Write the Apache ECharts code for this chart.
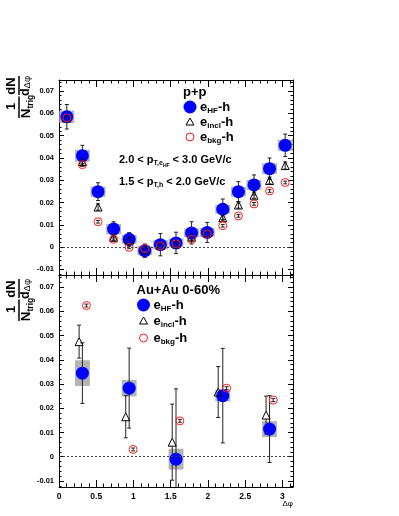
<!DOCTYPE html>
<html><head><meta charset="utf-8">
<script src="https://cdn.jsdelivr.net/npm/echarts@6/dist/echarts.min.js"></script>
<style>html,body{margin:0;padding:0;background:#fff}#c{width:399px;height:516px}</style>
</head><body><div id="c"></div>
<script>
// ---------- data ----------
const phiPP = [0.105,0.314,0.524,0.733,0.942,1.152,1.361,1.571,1.780,1.990,2.199,2.409,2.618,2.827,3.037];
const ppHF     = [0.0585,0.041,0.0249,0.0081,0.0035,-0.0016,0.0011,0.0019,0.0064,0.0066,0.017,0.0249,0.0279,0.0352,0.0457];
const ppHFErr  = [0.0055,0.0047,0.004,0.0033,0.003,0.003,0.005,0.0048,0.005,0.0045,0.0046,0.0045,0.0045,0.0048,0.005];
const ppHFSys  = [0.0028,0.0027,0.0023,0.0023,0.002,0.002,0.002,0.002,0.002,0.002,0.002,0.0022,0.0022,0.0024,0.0025];
const ppIncl   = [0.058,0.0384,0.0180,0.0044,0.003,-0.0012,0.0008,0.0015,0.0045,0.0064,0.0132,0.0189,0.0233,0.0299,0.0366];
const ppInclErr= [0.0012,0.0012,0.0014,0.0012,0.0012,0.0012,0.0012,0.0012,0.0012,0.0012,0.0014,0.0014,0.0014,0.0015,0.0016];
const ppBkg    = [0.058,0.037,0.0114,0.0035,-0.0001,-0.0006,0.0005,0.0015,0.0035,0.0059,0.0096,0.014,0.0194,0.0252,0.029];
const ppBkgErr = [0.0006,0.0006,0.0006,0.0006,0.0006,0.0006,0.0006,0.0006,0.0006,0.0006,0.0006,0.0006,0.0006,0.0006,0.0006];

const phiAA    = [0.314,0.942,1.571,2.199,2.827];
const aaHF     = [0.0345,0.0283,-0.001,0.0252,0.0114];
const aaHFErr  = [0.0125,0.0165,0.029,0.0195,0.0138];
const aaHFSys  = [0.0053,0.0034,0.0043,0.0024,0.0033];
const phiAAIncl= [0.27,0.896,1.52,2.137,2.78];
const aaIncl   = [0.0475,0.0165,0.006,0.0267,0.0172];
const aaInclErr= [0.0068,0.0087,0.0157,0.0105,0.0078];
const phiAABkg = [0.368,0.995,1.623,2.25,2.876];
const aaBkg    = [0.0624,0.003,0.0148,0.0283,0.0234];
const aaBkgErr = [0.0006,0.0006,0.0006,0.0006,0.0006];

const xTickLabels = [0,0.5,1,1.5,2,2.5,3];
const yTickLabels = [-0.01,0,0.01,0.02,0.03,0.04,0.05,0.06,0.07];

// ---------- helpers ----------
const FONT = '"Liberation Sans", Arial, sans-serif';
const XMIN = 0, XMAX = Math.PI, YMIN = -0.0125, YMAX = 0.075;
const xMinor = []; for (let i = 1; i <= 31; i++) { if (i % 5) xMinor.push(i / 10); }
const yMinor = []; for (let i = -6; i <= 37; i++) { if (i % 5) yMinor.push(i / 500); }
const fmt = v => Math.abs(v) < 1e-9 ? '0' : String(parseFloat(v.toFixed(3)));
const tickStyle = { color: '#000', width: 1 };

function axesFor(g, showX) {
  const base = { gridIndex: g, type: 'value', splitLine: { show: false }, axisPointer: { show: false } };
  const xs = [], ys = [];
  ['bottom', 'top'].forEach(pos => {
    xs.push(Object.assign({}, base, { min: XMIN, max: XMAX, position: pos,
      axisLine: { show: true, onZero: false, lineStyle: tickStyle },
      axisTick: { show: true, inside: true, length: 7, customValues: xTickLabels, lineStyle: tickStyle },
      axisLabel: { show: showX && pos === 'bottom', customValues: xTickLabels, formatter: fmt,
        fontFamily: FONT, fontWeight: 'bold', fontSize: 8.5, color: '#000', margin: 5 } }));
    xs.push(Object.assign({}, base, { min: XMIN, max: XMAX, position: pos,
      axisLine: { show: false, onZero: false },
      axisTick: { show: true, inside: true, length: 3.5, customValues: xMinor, lineStyle: tickStyle },
      axisLabel: { show: false } }));
  });
  ['left', 'right'].forEach(pos => {
    ys.push(Object.assign({}, base, { min: YMIN, max: YMAX, position: pos,
      axisLine: { show: true, onZero: false, lineStyle: tickStyle },
      axisTick: { show: true, inside: true, length: 5, customValues: yTickLabels, lineStyle: tickStyle },
      axisLabel: { show: pos === 'left', customValues: yTickLabels, formatter: fmt,
        fontFamily: FONT, fontWeight: 'bold', fontSize: 7.5, color: '#000', margin: 5 } }));
    ys.push(Object.assign({}, base, { min: YMIN, max: YMAX, position: pos,
      axisLine: { show: false, onZero: false },
      axisTick: { show: true, inside: true, length: 2.5, customValues: yMinor, lineStyle: tickStyle },
      axisLabel: { show: false } }));
  });
  return { xs, ys };
}

function errSeries(xi, yi, xv, yv, ev, gap) {
  return {
    type: 'custom', xAxisIndex: xi, yAxisIndex: yi, clip: true, silent: true,
    data: xv.map((x, i) => [x, yv[i], ev[i]]),
    encode: { x: 0, y: 1 },
    renderItem(params, api) {
      const x = api.value(0), y = api.value(1), e = api.value(2);
      const t = api.coord([x, y + e]), b = api.coord([x, y - e]), c = api.coord([x, y]);
      const st = { stroke: '#222', lineWidth: 1 };
      const ch = [];
      if (gap > 0) {
        if (c[1] - gap > t[1]) ch.push({ type: 'line', shape: { x1: t[0], y1: t[1], x2: t[0], y2: c[1] - gap }, style: st });
        if (c[1] + gap < b[1]) ch.push({ type: 'line', shape: { x1: b[0], y1: c[1] + gap, x2: b[0], y2: b[1] }, style: st });
      } else {
        ch.push({ type: 'line', shape: { x1: t[0], y1: t[1], x2: b[0], y2: b[1] }, style: st });
      }
      ch.push({ type: 'line', shape: { x1: t[0] - 2, y1: t[1], x2: t[0] + 2, y2: t[1] }, style: st });
      ch.push({ type: 'line', shape: { x1: b[0] - 2, y1: b[1], x2: b[0] + 2, y2: b[1] }, style: st });
      return { type: 'group', children: ch };
    }
  };
}
function sysSeries(xi, yi, xv, yv, sv) {
  return {
    type: 'custom', xAxisIndex: xi, yAxisIndex: yi, clip: true, silent: true,
    data: xv.map((x, i) => [x, yv[i], sv[i]]),
    encode: { x: 0, y: 1 },
    renderItem(params, api) {
      const x = api.value(0), y = api.value(1), s = api.value(2);
      const a = api.coord([x - 0.1, y + s]), b = api.coord([x + 0.1, y - s]);
      return { type: 'rect', shape: { x: a[0], y: a[1], width: b[0] - a[0], height: b[1] - a[1] }, style: { fill: '#b4b4b4' } };
    },
    markLine: { silent: true, symbol: 'none', label: { show: false },
      lineStyle: { type: [2, 2], color: '#444', width: 1 }, data: [{ yAxis: 0 }] }
  };
}
function scat(xi, yi, xv, yv, kind) {
  const s = { type: 'scatter', xAxisIndex: xi, yAxisIndex: yi, silent: true, clip: true,
    data: xv.map((x, i) => [x, yv[i]]) };
  if (kind === 'hf') { s.symbol = 'circle'; s.symbolSize = 13; s.itemStyle = { color: '#0000ff', opacity: 1 }; }
  if (kind === 'incl') { s.symbol = 'triangle'; s.symbolSize = [8, 8]; s.itemStyle = { color: 'rgba(0,0,0,0)', borderColor: '#000', borderWidth: 1, opacity: 1 }; }
  if (kind === 'bkg') { s.symbol = 'circle'; s.symbolSize = 8; s.itemStyle = { color: 'rgba(0,0,0,0)', borderColor: '#ff1a1a', borderWidth: 1, opacity: 1 }; }
  return s;
}

const A0 = axesFor(0, false), A1 = axesFor(1, true);
const xAxis = A0.xs.concat(A1.xs), yAxis = A0.ys.concat(A1.ys);
const series = [
  sysSeries(0, 0, phiPP, ppHF, ppHFSys),
  errSeries(0, 0, phiPP, ppHF, ppHFErr, 0),
  scat(0, 0, phiPP, ppHF, 'hf'),
  errSeries(0, 0, phiPP, ppIncl, ppInclErr, 0),
  scat(0, 0, phiPP, ppIncl, 'incl'),
  errSeries(0, 0, phiPP, ppBkg, ppBkgErr, 0),
  scat(0, 0, phiPP, ppBkg, 'bkg'),
  sysSeries(4, 4, phiAA, aaHF, aaHFSys),
  errSeries(4, 4, phiAA, aaHF, aaHFErr, 0),
  scat(4, 4, phiAA, aaHF, 'hf'),
  errSeries(4, 4, phiAAIncl, aaIncl, aaInclErr, 4),
  scat(4, 4, phiAAIncl, aaIncl, 'incl'),
  errSeries(4, 4, phiAABkg, aaBkg, aaBkgErr, 0),
  scat(4, 4, phiAABkg, aaBkg, 'bkg')
];

// ---------- text helpers ----------
const mctx = document.createElement('canvas').getContext('2d');
function tw(t, size, w) { mctx.font = `${w} ${size}px ${FONT}`; return mctx.measureText(t).width; }
function runText(x, y, parts, align) {
  let total = 0; parts.forEach(p => total += tw(p[0], p[1], p[3] || 'bold'));
  let cx = align === 'center' ? x - total / 2 : (align === 'right' ? x - total : x);
  const out = [];
  parts.forEach(p => {
    const w = p[3] || 'bold';
    out.push({ type: 'text', silent: true, x: cx, y: y + (p[2] || 0),
      style: { text: p[0], font: `${w} ${p[1]}px ${FONT}`, fill: '#000', align: 'left', verticalAlign: 'middle',
        textAlign: 'left', textVerticalAlign: 'middle' } });
    cx += tw(p[0], p[1], w);
  });
  return out;
}
function yLabel(cx, cy) {
  const ch = [];
  ch.push(...runText(-10.5, -7.5, [['1', 13, 0]], 'center'));
  ch.push(...runText(-10.5, 7.5, [['N', 13.5, 0], ['trig', 8.5, 4]], 'center'));
  ch.push({ type: 'line', shape: { x1: -22, y1: 0, x2: -0.5, y2: 0 }, style: { stroke: '#000', lineWidth: 1.5 } });
  ch.push(...runText(10, -7.5, [['dN', 13, 0]], 'center'));
  ch.push(...runText(10, 7, [['d', 12.5, 0], ['Δφ', 9.5, 1, 'normal']], 'center'));
  ch.push({ type: 'line', shape: { x1: 1, y1: 0, x2: 20, y2: 0 }, style: { stroke: '#000', lineWidth: 1.5 } });
  return { type: 'group', x: cx, y: cy, rotation: Math.PI / 2, children: ch };
}
function legendBlock(x0, yTitle, title, yRows) {
  const el = [];
  el.push(...runText(x0 - 7, yTitle, [[title, 13, 0]], 'left'));
  const mx = x0, tx = x0 + 10;
  el.push({ type: 'circle', silent: true, shape: { cx: mx, cy: yRows[0], r: 6.5 }, style: { fill: '#0000ff' } });
  el.push(...runText(tx, yRows[0], [['e', 13, 0], ['HF', 8, 4], ['-h', 13, 0]], 'left'));
  el.push({ type: 'polygon', silent: true, shape: { points: [[mx, yRows[1] - 4], [mx + 4, yRows[1] + 3], [mx - 4, yRows[1] + 3]] }, style: { fill: 'none', stroke: '#000', lineWidth: 1 } });
  el.push(...runText(tx, yRows[1], [['e', 13, 0], ['incl', 8, 4], ['-h', 13, 0]], 'left'));
  el.push({ type: 'circle', silent: true, shape: { cx: mx, cy: yRows[2], r: 4 }, style: { fill: 'none', stroke: '#ff1a1a', lineWidth: 1 } });
  el.push(...runText(tx, yRows[2], [['e', 13, 0], ['bkg', 8, 4], ['-h', 13, 0]], 'left'));
  return el;
}

const graphic = [].concat(
  [yLabel(19, 96), yLabel(19, 299)],
  legendBlock(190, 92, 'p+p', [107, 122, 137]),
  legendBlock(143.5, 290, 'Au+Au 0-60%', [305, 321, 338]),
  runText(119, 160, [['2.0 < p', 11, 0], ['T,e', 7, 3.5], ['HF', 5, 6], [' < 3.0 GeV/c', 11, 0]], 'left'),
  runText(119, 182, [['1.5 < p', 11, 0], ['T,h', 7, 3.5], [' < 2.0 GeV/c', 11, 0]], 'left'),
  runText(293, 504, [['Δφ', 8, 0, 'normal']], 'right')
);

const chart = echarts.init(document.getElementById('c'), null, { renderer: 'canvas' });
chart.setOption({
  animation: false,
  backgroundColor: '#fff',
  grid: [
    { left: 59, top: 80, width: 234, height: 195, containLabel: false },
    { left: 59, top: 275, width: 234, height: 212, containLabel: false }
  ],
  xAxis, yAxis, series, graphic
});
</script></body></html>
